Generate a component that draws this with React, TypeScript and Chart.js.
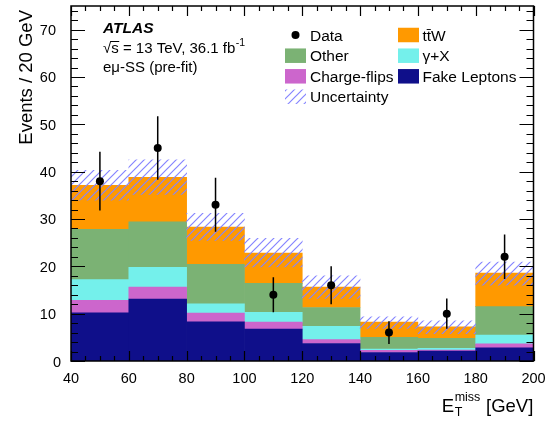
import React, { useEffect, useRef } from "react";
import { Chart, registerables } from "chart.js";

Chart.register(...registerables);

// ---- data ----
const binLowEdges = [40, 60, 80, 100, 120, 140, 160, 180];
const binWidth = 20;
const fakeLeptons = [10.2, 13.1, 8.3, 6.75, 3.7, 1.8, 2.1, 2.8];
const chargeFlips = [2.6, 2.5, 1.8, 1.45, 0.8, 0.45, 0.2, 0.85];
const gammaX = [4.4, 4.2, 2.0, 2.1, 2.8, 0.25, 0.4, 1.85];
const other = [10.6, 9.6, 8.3, 6.1, 4.0, 2.5, 2.1, 6.0];
const ttW = [9.3, 9.4, 7.9, 6.4, 4.3, 3.2, 2.4, 7.1];
const uncLow = [34.0, 35.2, 25.5, 19.9, 13.2, 6.9, 5.8, 16.0];
const uncHigh = [40.3, 42.5, 31.2, 25.9, 18.0, 9.35, 8.5, 20.9];
const dataCounts = [38, 45, 33, 14, 16, 6, 10, 22];
const dataErrors = [6.2, 6.7, 5.7, 3.7, 4.0, 2.4, 3.2, 4.7];
const xTickLabels = [40, 60, 80, 100, 120, 140, 160, 180, 200];
const yTickLabels = [0, 10, 20, 30, 40, 50, 60, 70];
const seriesNames = ["Fake Leptons", "Charge-flips", "\u03b3+X", "Other", "t\u0074\u0304W"];
const seriesColors = ["#0f0f8a", "#cc66cc", "#74f0eb", "#7bb274", "#ff9900"];

const FONT = '"Liberation Sans", Arial, Helvetica, sans-serif';
const HATCH = "#8585ff";

function makeHatch(): CanvasPattern | string {
  const c = document.createElement("canvas");
  c.width = 8;
  c.height = 8;
  const g = c.getContext("2d");
  if (!g) return HATCH;
  g.strokeStyle = HATCH;
  g.lineWidth = 1.2;
  g.beginPath();
  g.moveTo(-2, 10);
  g.lineTo(10, -2);
  g.moveTo(-10, 10);
  g.lineTo(2, -2);
  g.moveTo(6, 10);
  g.lineTo(18, -2);
  g.stroke();
  return g.createPattern(c, "repeat") || HATCH;
}

export default function App() {
  const ref = useRef<HTMLCanvasElement | null>(null);

  useEffect(() => {
    if (!ref.current) return;
    const hatch = makeHatch();
    const centers = binLowEdges.map((e) => e + binWidth / 2);
    const comps = [fakeLeptons, chargeFlips, gammaX, other, ttW];
    let base = centers.map(() => 0);
    const barSets: any[] = comps.map((vals, k) => {
      const segs = vals.map((v, i) => ({ x: centers[i], y: [base[i], base[i] + v] }));
      base = base.map((b, i) => b + vals[i]);
      return {
        type: "bar",
        label: seriesNames[k],
        data: segs,
        backgroundColor: seriesColors[k],
        borderWidth: 0,
        borderSkipped: false,
        barPercentage: 1,
        categoryPercentage: 1,
        grouped: false,
        order: 10 + k,
      };
    });

    const uncSet: any = {
      type: "bar",
      label: "Uncertainty",
      data: centers.map((c, i) => ({ x: c, y: [uncLow[i], uncHigh[i]] })),
      backgroundColor: hatch,
      borderWidth: 0,
      borderSkipped: false,
      barPercentage: 1,
      categoryPercentage: 1,
      grouped: false,
      order: 1,
    };

    const dataSet: any = {
      type: "line",
      label: "Data",
      data: centers.map((c, i) => ({ x: c, y: dataCounts[i] })),
      showLine: false,
      pointRadius: 4,
      pointHoverRadius: 4,
      pointBackgroundColor: "#000",
      pointBorderColor: "#000",
      pointBorderWidth: 0,
      order: 0,
    };

    const decor = {
      id: "decor",
      afterDatasetsDraw(chart: any) {
        const ctx = chart.ctx;
        const xs = chart.scales.x;
        const ys = chart.scales.y;
        ctx.save();
        ctx.strokeStyle = "#000";
        ctx.lineWidth = 1.5;
        ctx.beginPath();
        centers.forEach((c, i) => {
          const px = xs.getPixelForValue(c);
          ctx.moveTo(px, ys.getPixelForValue(dataCounts[i] - dataErrors[i]));
          ctx.lineTo(px, ys.getPixelForValue(dataCounts[i] + dataErrors[i]));
        });
        ctx.stroke();
        ctx.restore();
      },
      afterDraw(chart: any) {
        const ctx = chart.ctx;
        const xs = chart.scales.x;
        const ys = chart.scales.y;
        const a = chart.chartArea;
        ctx.save();
        // frame
        ctx.strokeStyle = "#000";
        ctx.lineWidth = 1.5;
        ctx.strokeRect(a.left, a.top, a.right - a.left, a.bottom - a.top);
        // ticks
        ctx.lineWidth = 1.2;
        ctx.beginPath();
        for (let v = xs.min; v <= xs.max + 1e-6; v += 5) {
          const major = Math.abs(v % 20) < 1e-6;
          const len = major ? 10 : 5;
          const px = Math.round(xs.getPixelForValue(v)) + 0.5;
          ctx.moveTo(px, a.bottom);
          ctx.lineTo(px, a.bottom - len);
          ctx.moveTo(px, a.top);
          ctx.lineTo(px, a.top + len);
        }
        for (let v = ys.min; v <= ys.max + 1e-6; v += 2) {
          const major = Math.abs(v % 10) < 1e-6;
          const len = major ? 14 : 7;
          const py = Math.round(ys.getPixelForValue(v)) + 0.5;
          ctx.moveTo(a.left, py);
          ctx.lineTo(a.left + len, py);
          ctx.moveTo(a.right, py);
          ctx.lineTo(a.right - len, py);
        }
        ctx.stroke();

        // tick labels
        ctx.fillStyle = "#000";
        ctx.font = `14.5px ${FONT}`;
        ctx.textAlign = "center";
        ctx.textBaseline = "alphabetic";
        xTickLabels.forEach((v) => {
          ctx.fillText(String(v), xs.getPixelForValue(v), 382.5);
        });
        ctx.textAlign = "right";
        yTickLabels.forEach((v) => {
          if (v === 0) {
            ctx.fillText("0", 61, 367.3);
          } else {
            ctx.fillText(String(v), 56, ys.getPixelForValue(v) + 5.2);
          }
        });

        // y title
        ctx.save();
        ctx.font = `18.5px ${FONT}`;
        ctx.translate(31.5, 10);
        ctx.rotate(-Math.PI / 2);
        ctx.textAlign = "right";
        ctx.fillText("Events / 20 GeV", 0, 0);
        ctx.restore();

        // x title
        ctx.textAlign = "left";
        const big = `18.5px ${FONT}`;
        const small = `12.5px ${FONT}`;
        ctx.font = big;
        const wE = ctx.measureText("E").width;
        const wG = ctx.measureText(" [GeV]").width;
        ctx.font = small;
        const wSub = Math.max(ctx.measureText("T").width, ctx.measureText("miss").width);
        const xRight = 533.3;
        const x0 = xRight - (wE + wSub + 1 + wG);
        const bl = 411.5;
        ctx.font = big;
        ctx.fillText("E", x0, bl);
        ctx.font = small;
        ctx.fillText("T", x0 + wE + 0.5, bl + 4);
        ctx.fillText("miss", x0 + wE + 0.5, bl - 11);
        ctx.font = big;
        ctx.fillText(" [GeV]", x0 + wE + wSub + 1, bl);

        // ATLAS label
        const lx = 103;
        ctx.font = `italic bold 15.5px ${FONT}`;
        ctx.fillText("ATLAS", lx, 33.3);
        ctx.font = `15px ${FONT}`;
        const line2 = "\u221as = 13 TeV, 36.1 fb";
        ctx.fillText(line2, lx, 52.8);
        const wRad = ctx.measureText("\u221a").width;
        const wRadS = ctx.measureText("\u221as").width;
        const wLine2 = ctx.measureText(line2).width;
        ctx.lineWidth = 1;
        ctx.beginPath();
        ctx.moveTo(lx + wRad - 0.5, 41.5);
        ctx.lineTo(lx + wRadS + 0.5, 41.5);
        ctx.stroke();
        ctx.font = `10.5px ${FONT}`;
        ctx.fillText("-1", lx + wLine2 + 0.5, 46);
        ctx.font = `15px ${FONT}`;
        ctx.fillText("e\u03bc-SS (pre-fit)", lx, 71.6);

        // legend
        const rows = [35, 55.7, 76.3, 96.7];
        const c1Box = 285, c2Box = 398, bw = 21, bh = 14.5;
        const c1Text = 310, c2Text = 422.5;
        ctx.font = `15.5px ${FONT}`;
        const txt = (s: string, x: number, y: number) => ctx.fillText(s, x, y + 5.6);
        ctx.fillStyle = "#000";
        ctx.beginPath();
        ctx.arc(c1Box + bw / 2, rows[0], 4, 0, Math.PI * 2);
        ctx.fill();
        txt("Data", c1Text, rows[0]);
        const box = (col: string | CanvasPattern, x: number, y: number) => {
          ctx.fillStyle = col;
          ctx.fillRect(x, y - bh / 2, bw, bh);
          ctx.fillStyle = "#000";
        };
        box(seriesColors[3], c1Box, rows[1]);
        txt(seriesNames[3], c1Text, rows[1]);
        box(seriesColors[1], c1Box, rows[2]);
        txt(seriesNames[1], c1Text, rows[2]);
        box(hatch, c1Box, rows[3]);
        txt("Uncertainty", c1Text, rows[3]);
        box(seriesColors[4], c2Box, rows[0]);
        txt(seriesNames[4], c2Text, rows[0]);
        box(seriesColors[2], c2Box, rows[1]);
        txt(seriesNames[2], c2Text, rows[1]);
        box(seriesColors[0], c2Box, rows[2]);
        txt(seriesNames[0], c2Text, rows[2]);
        ctx.restore();
      },
    };

    const chart = new Chart(ref.current, {
      type: "bar",
      data: { datasets: [dataSet, uncSet, ...barSets] },
      options: {
        animation: false,
        responsive: false,
        events: [],
        layout: { padding: { left: 71, right: 13.5, top: 6, bottom: 62 } },
        plugins: { legend: { display: false }, tooltip: { enabled: false } },
        scales: {
          x: {
            type: "linear",
            min: 40,
            max: 200,
            offset: false,
            display: false,
            ticks: { stepSize: 20 },
          },
          y: {
            type: "linear",
            min: 0,
            max: 75,
            display: false,
            stacked: false,
          },
        },
      },
      plugins: [decor],
    } as any);
    return () => chart.destroy();
  }, []);

  return (
    <div style={{ position: "fixed", left: 0, top: 0, width: 547, height: 423, background: "#fff" }}>
      <canvas ref={ref} width={547} height={423} style={{ display: "block" }} />
    </div>
  );
}
